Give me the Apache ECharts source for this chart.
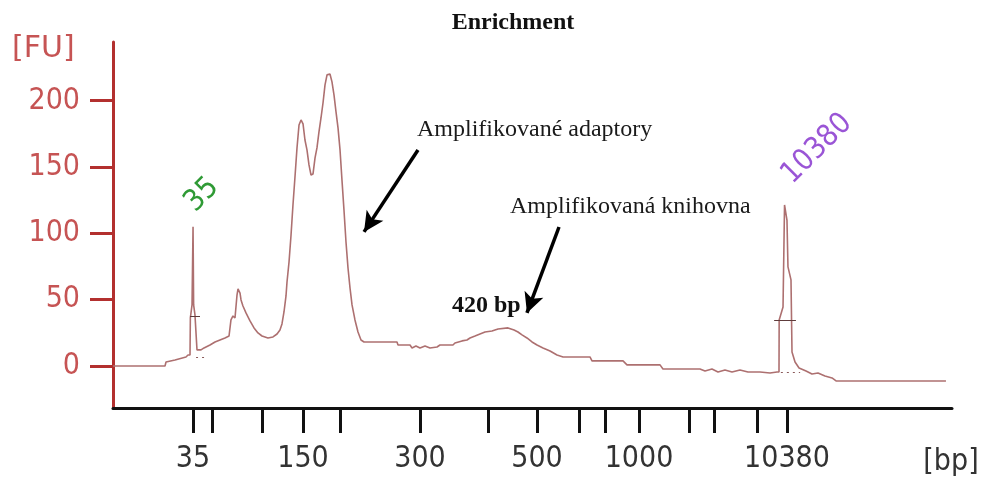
<!DOCTYPE html>
<html>
<head>
<meta charset="utf-8">
<script src="https://cdn.jsdelivr.net/npm/echarts@6/dist/echarts.min.js"></script>
<style>
  html, body { margin: 0; padding: 0; background: #ffffff; }
  #chart { width: 986px; height: 481px; }
</style>
</head>
<body>
<div id="chart"></div>
<script>
// Ladder: fragment sizes [bp] and their migration times [s]
const ladderSizes = [35, 50, 100, 150, 200, 300, 400, 500, 600, 700, 1000, 2000, 3000, 7000, 10380];
const ladderTimes = [29.54, 31.80, 37.76, 42.65, 47.06, 56.59, 64.70, 70.54, 75.54, 78.64, 82.69, 88.65, 91.63, 96.76, 100.33];
const labeledSizes = [35, 150, 300, 500, 1000, 10380];

// Fluorescence axis ticks [FU]
const fuTicks = [0, 50, 100, 150, 200];

// Electropherogram trace: migration time [s] and fluorescence [FU]
const traceTime = [
  20.00, 26.20, 26.32, 27.39, 27.51, 28.70, 28.94, 29.18, 29.22, 29.42,
  29.54, 29.61, 29.77, 29.89, 30.01, 30.49, 30.85, 31.56, 32.16, 32.75,
  33.35, 33.83, 34.06, 34.30, 34.54, 34.78, 34.90, 35.14, 35.26, 35.49,
  35.85, 36.33, 36.81, 37.28, 37.76, 38.47, 39.07, 39.55, 39.90, 40.14,
  40.38, 40.62, 40.74, 40.98, 41.22, 41.45, 41.69, 41.93, 42.17, 42.41,
  42.65, 42.88, 43.12, 43.36, 43.60, 43.84, 44.08, 44.31, 44.55, 44.79,
  45.03, 45.27, 45.51, 45.86, 46.10, 46.34, 46.58, 46.82, 47.06, 47.29,
  47.53, 47.77, 48.01, 48.25, 48.49, 48.84, 49.20, 49.56, 49.92, 53.85,
  53.97, 55.40, 55.64, 56.11, 56.59, 57.19, 57.78, 58.62, 58.97, 60.52,
  60.76, 61.60, 62.19, 62.55, 63.15, 63.74, 64.34, 65.17, 65.89, 67.08,
  67.80, 68.27, 68.75, 69.34, 69.94, 70.54, 71.25, 72.09, 72.92, 73.64,
  76.85, 77.09, 80.79, 81.26, 85.20, 85.55, 89.96, 90.56, 91.39, 92.11,
  92.94, 93.78, 94.73, 95.68, 97.12, 98.31, 99.14, 99.38, 99.40, 99.86,
  100.04, 100.22, 100.33, 100.45, 100.81, 100.93, 101.29, 101.77, 102.60, 103.31,
  104.03, 104.86, 105.70, 106.18, 119.28
];
const traceFU = [
  0, 0, 3.0, 4.5, 6.0, 6.8, 8.3, 8.3, 36.2, 46.0,
  105.0, 46.0, 38.5, 37.7, 12.1, 12.1, 13.6, 15.8, 18.1, 19.6,
  21.1, 22.6, 34.7, 37.7, 36.2, 53.5, 58.1, 55.0, 49.8, 45.2,
  40.0, 34.0, 28.7, 24.9, 22.6, 21.1, 21.9, 24.1, 27.1, 31.7,
  40.7, 52.8, 63.3, 78.4, 98.8, 121.4, 142.5, 164.4, 181.7, 185.5,
  182.5, 170.4, 162.9, 151.6, 144.0, 144.8, 156.9, 164.4, 176.5, 187.0,
  198.3, 212.0, 219.5, 220.2, 214.2, 204.4, 191.6, 179.5, 162.9, 140.3,
  117.6, 93.5, 73.9, 58.8, 46.0, 34.7, 25.6, 19.6, 18.1, 18.1,
  15.8, 15.8, 13.6, 15.1, 13.6, 15.1, 13.6, 14.3, 15.8, 15.8,
  17.3, 18.9, 19.6, 21.1, 22.6, 24.1, 25.6, 26.4, 27.9, 28.7,
  27.1, 25.6, 23.4, 21.1, 18.1, 15.8, 13.6, 11.3, 8.3, 6.8,
  6.8, 3.8, 3.8, 0.8, 0.8, -2.3, -2.3, -3.8, -2.3, -4.5,
  -3.0, -4.5, -3.0, -4.5, -4.5, -5.3, -4.5, -4.5, 34.7, 44.5,
  121.4, 122.0, 110.0, 74.7, 64.9, 10.6, 3.0, -1.5, -3.8, -6.0,
  -5.3, -7.5, -9.0, -11.3, -11.3
];

// Peak markers (time [s], FU)
const lowerMarkerBar = [[29.18, 37.7], [30.37, 37.7]];
const upperMarkerBar = [[98.80, 34.7], [101.40, 34.7]];
const lowerMarkerBase = [[29.90, 6.8], [31.00, 6.8]];
const upperMarkerBase = [[99.60, -5.0], [101.90, -5.0]];

// Annotation arrows (from -> to, in time [s] / FU)
const arrowAdaptors = [[56.35, 162.9], [49.92, 101.1]];
const arrowLibrary = [[73.16, 104.8], [69.34, 40.0]];

const axisFont = "'DejaVu Sans Condensed', 'Liberation Sans', sans-serif";
const unitFont = "'DejaVu Sans', 'Liberation Sans', sans-serif";
const serifFont = "'Liberation Serif', 'DejaVu Serif', serif";
const axisRed = '#b3302f';
const labelRed = '#c65454';

const traceData = traceTime.map((t, i) => [t, traceFU[i]]);

function sizeAt(v) {
  for (let i = 0; i < ladderTimes.length; i++) {
    if (Math.abs(ladderTimes[i] - v) < 1e-6) return ladderSizes[i];
  }
  return null;
}
const labelTimes = labeledSizes.map(s => ladderTimes[ladderSizes.indexOf(s)]);

function arrowLine(pair) {
  return [
    { coord: pair[0], symbol: 'none' },
    { coord: pair[1], symbol: 'arrow', symbolSize: [15, 20] }
  ];
}
function barLine(pair, dashed) {
  return [
    { coord: pair[0], symbol: 'none', lineStyle: { color: dashed ? '#8a5a5a' : '#5e3c3c', width: 1, type: dashed ? [2, 4] : 'solid' } },
    { coord: pair[1], symbol: 'none' }
  ];
}

const chart = echarts.init(document.getElementById('chart'), null, { renderer: 'canvas' });
chart.setOption({
  animation: false,
  backgroundColor: '#ffffff',
  grid: { left: 113, right: 34, top: 42, bottom: 73, containLabel: false },
  xAxis: {
    type: 'value',
    min: 20,
    max: 120,
    splitLine: { show: false },
    axisLine: { show: true, onZero: false, lineStyle: { color: '#111111', width: 3 } },
    axisTick: { show: true, length: 25, customValues: ladderTimes, lineStyle: { color: '#111111', width: 3 } },
    axisLabel: {
      show: true,
      customValues: labelTimes,
      margin: 36,
      color: '#333333',
      fontFamily: axisFont,
      fontSize: 30,
      formatter: v => { const s = sizeAt(v); return s === null ? '' : String(s); }
    }
  },
  yAxis: {
    type: 'value',
    min: -31.7,
    max: 244.3,
    splitLine: { show: false },
    axisLine: { show: true, onZero: false, lineStyle: { color: axisRed, width: 3 } },
    axisTick: { show: true, length: 23, customValues: fuTicks, lineStyle: { color: axisRed, width: 3 } },
    axisLabel: {
      show: true,
      customValues: fuTicks,
      margin: 33,
      color: labelRed,
      fontFamily: axisFont,
      fontSize: 30
    }
  },
  series: [{
    type: 'line',
    data: traceData,
    showSymbol: false,
    symbol: 'none',
    silent: true,
    lineStyle: { color: '#ad7070', width: 1.6 },
    markLine: {
      silent: true,
      animation: false,
      label: { show: false },
      emphasis: { disabled: true },
      lineStyle: { color: '#000000', width: 3.5, type: 'solid' },
      data: [
        arrowLine(arrowAdaptors),
        arrowLine(arrowLibrary),
        barLine(lowerMarkerBar, false),
        barLine(upperMarkerBar, false),
        barLine(lowerMarkerBase, true),
        barLine(upperMarkerBase, true)
      ]
    }
  }],
  graphic: [
    { type: 'text', x: 513, y: 23, style: { text: 'Enrichment', font: "bold 24px " + serifFont, fill: '#111111', align: 'center', verticalAlign: 'middle' }, silent: true },
    { type: 'text', x: 12, y: 49, style: { text: '[FU]', font: "30px " + unitFont, fill: labelRed, align: 'left', verticalAlign: 'middle' }, silent: true },
    { type: 'text', x: 951, y: 462, style: { text: '[bp]', font: "30px " + axisFont, fill: '#333333', align: 'center', verticalAlign: 'middle' }, silent: true },
    { type: 'text', x: 202, y: 195, rotation: Math.PI / 4, style: { text: '35', font: "30px " + axisFont, fill: '#2f9a35', align: 'center', verticalAlign: 'middle' }, silent: true },
    { type: 'text', x: 817, y: 149, rotation: Math.PI / 4, style: { text: '10380', font: "30px " + axisFont, fill: '#9a55d6', align: 'center', verticalAlign: 'middle' }, silent: true },
    { type: 'text', x: 417, y: 130, style: { text: 'Amplifikované adaptory', font: "24px " + serifFont, fill: '#1a1a1a', align: 'left', verticalAlign: 'middle' }, silent: true },
    { type: 'text', x: 510, y: 207, style: { text: 'Amplifikovaná knihovna', font: "24px " + serifFont, fill: '#1a1a1a', align: 'left', verticalAlign: 'middle' }, silent: true },
    { type: 'text', x: 452, y: 306, style: { text: '420 bp', font: "bold 24px " + serifFont, fill: '#111111', align: 'left', verticalAlign: 'middle' }, silent: true }
  ]
});
</script>
</body>
</html>
